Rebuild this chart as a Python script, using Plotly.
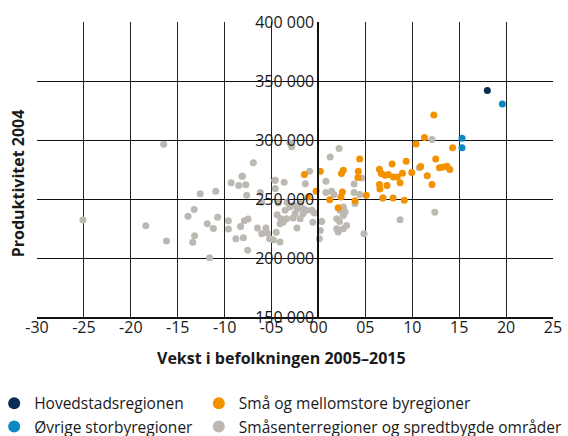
import plotly.graph_objects as go

# Population growth 2005-2015 (%) vs. productivity 2004 (NOK) by region type
capital_x = [18.0]
capital_y = [342000]

big_city_x = [19.6, 15.3, 15.3]
big_city_y = [330500, 301400, 293400]

mid_city_x = [12.3, 11.3, 10.4, 14.3, 4.4, 12.5, 9.35, 7.85, 12.9, 13.3, 13.7, 14.0,
              10.9, 8.95, 9.95, 11.6, 12.1, 8.7, 9.15, 6.5, 2.65, 2.45, 4.25, 0.2,
              6.7, 7.1, 7.45, 8.0, 8.4, 4.2, 6.5, 7.3, 6.55, -1.5, -1.1, -0.25,
              2.55, 2.4, 1.2, 5.1, 6.85, 7.95, 2.1, 3.9]
mid_city_y = [321200, 302200, 296600, 293400, 283800, 284000, 282000, 279700, 276400,
              277200, 277800, 275000, 277600, 271900, 272400, 269600, 262200, 263800,
              249000, 275300, 274400, 271600, 273600, 273600, 271600, 270200, 270800,
              268700, 268700, 268300, 262200, 261500, 258500, 270800, 251700, 256600,
              256000, 251700, 249300, 253200, 250900, 250900, 242500, 248600]

rural_x = [-16.5, -3.05, -2.85, 2.2, 1.25, 12.1, 10.75, -6.95, -8.1, -0.95, -9.3, -8.5,
           -7.75, -4.6, -3.65, -1.4, 4.6, 0.8, 3.8, 0.8, 1.4, 1.65, 3.8, 4.4, 3.9, 6.9,
           8.7, 12.4, 4.85, 2.65, 2.3, 2.85, 2.65, 1.95, 2.25, 3.0, 2.65, 1.95, 2.1,
           -0.7, -0.45, 0.35, -0.6, 0.2, 0.1, -25.1, -18.4, -16.2, -13.9, -13.25, -13.2,
           -13.4, -12.6, -11.6, -11.85, -11.2, -10.95, -10.75, -9.6, -9.6, -8.8, -8.0,
           -8.3, -7.9, -7.5, -8.15, -7.65, -7.55, -6.5, -6.05, -5.6, -5.45, -5.2, -4.8,
           -6.05, -4.65, -4.5, -4.1, -4.3, -3.35, -2.3, -2.7, -4.4, -4.0, -4.1, -3.75,
           -3.4, -3.55, -3.05, -2.65, -2.25, -1.95, -1.6, -1.3, -1.65, -1.95, -2.5,
           -4.6, -6.2]
rural_y = [296500, 297600, 294200, 292900, 285500, 300500, 276400, 280800, 269200, 273600,
           263800, 261500, 262000, 265900, 264300, 263000, 267900, 265000, 262800, 255500,
           256600, 253800, 255500, 253800, 246100, 250900, 232500, 238700, 220600, 243200,
           240400, 239000, 236100, 233300, 231000, 227600, 224800, 224800, 222000, 240400,
           238100, 231000, 230400, 223400, 216300, 232200, 227400, 214400, 235300, 241000,
           218900, 213300, 254500, 200300, 229100, 225100, 256500, 234500, 231600, 224600,
           216400, 217200, 226600, 231600, 233000, 269200, 253100, 206500, 225400, 220600,
           225400, 221200, 216400, 215500, 247200, 265800, 221800, 213600, 246600, 247200,
           225400, 234000, 236700, 233300, 229100, 230400, 233300, 240400, 243200, 244600,
           241800, 246100, 241800, 240400, 237600, 233300, 237600, 258900, 255500]

x_ticks = [-30, -25, -20, -15, -10, -5, 0, 5, 10, 15, 20, 25]
x_ticktext = ["-30", "-25", "-20", "-15", "-10", "-05", "00", "05", "10", "15", "20", "25"]
y_ticks = [150000, 200000, 250000, 300000, 350000, 400000]
y_ticktext = ["150 000", "200 000", "250 000", "300 000", "350 000", "400 000"]

x_range = [-30, 25]
y_range = [150000, 400000]

FONT = "Open Sans, sans-serif"
TXT = "#1a1a1a"
MS = 7

fig = go.Figure()
fig.add_trace(go.Scatter(x=rural_x, y=rural_y, mode="markers",
                         name="Småsenterregioner og spredtbygde områder",
                         legend="legend2", legendrank=2,
                         marker=dict(color="#bdb9b2", size=MS)))
fig.add_trace(go.Scatter(x=mid_city_x, y=mid_city_y, mode="markers",
                         name="Små og mellomstore byregioner",
                         legend="legend2", legendrank=1,
                         marker=dict(color="#f39200", size=MS)))
fig.add_trace(go.Scatter(x=big_city_x, y=big_city_y, mode="markers",
                         name="Øvrige storbyregioner",
                         legend="legend", legendrank=2,
                         marker=dict(color="#0a88c4", size=MS)))
fig.add_trace(go.Scatter(x=capital_x, y=capital_y, mode="markers",
                         name="Hovedstadsregionen",
                         legend="legend", legendrank=1,
                         marker=dict(color="#0b2d54", size=MS)))

# y axis sits on the x = 0 line
y_axis_pos = (0 - x_range[0]) / (x_range[1] - x_range[0])

legend_style = dict(orientation="v", yref="container",
                    xanchor="left", yanchor="top", y=0.113,
                    font=dict(size=15.5, family=FONT, color=TXT),
                    traceorder="normal", itemsizing="constant",
                    bgcolor="rgba(0,0,0,0)")

fig.update_layout(
    width=568, height=436,
    margin=dict(l=37, r=15, t=22, b=119, autoexpand=False),
    paper_bgcolor="white", plot_bgcolor="white",
    font=dict(family=FONT, size=16, color=TXT),
    showlegend=True,
    xaxis=dict(range=x_range, tickvals=x_ticks, ticktext=x_ticktext,
               showgrid=True, gridcolor="#222222", gridwidth=1,
               zeroline=False, showline=True, linecolor="#111111", linewidth=2,
               ticks="", ticklabelstandoff=-5,
               tickfont=dict(size=16, family=FONT, color=TXT)),
    yaxis=dict(range=y_range, tickvals=y_ticks, ticktext=y_ticktext,
               anchor="free", position=y_axis_pos,
               showgrid=True, gridcolor="#111111", gridwidth=1,
               zeroline=False, showline=True, linecolor="#111111", linewidth=2,
               ticks="", tickfont=dict(size=16, family=FONT, color=TXT)),
    legend=dict(legend_style, xref="paper", x=-0.083),
    legend2=dict(legend_style, xref="container", x=0.35),
    annotations=[
        dict(text="<b>Vekst i befolkningen 2005–2015</b>", xref="paper", yref="paper",
             x=0.474, y=-0.139, xanchor="center", yanchor="middle", showarrow=False,
             font=dict(size=16, family=FONT, color=TXT)),
        dict(text="<b>Produktivitet 2004</b>", xref="paper", yref="paper",
             x=-0.037, y=0.453, xanchor="center", yanchor="middle", showarrow=False,
             textangle=-90, font=dict(size=16, family=FONT, color=TXT)),
    ],
)

fig.write_html("out.html")
